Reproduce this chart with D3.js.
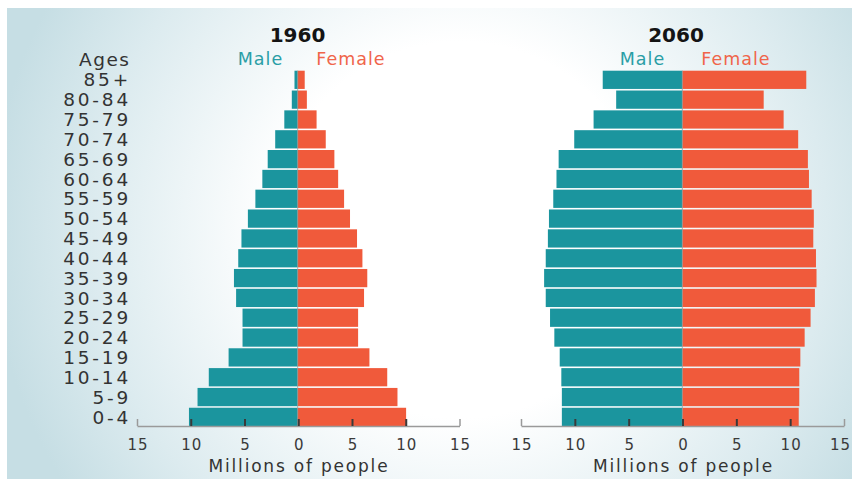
<!DOCTYPE html>
<html>
<head>
<meta charset="utf-8">
<script src="https://cdn.jsdelivr.net/npm/d3@7"></script>
<style>
  html, body { margin: 0; padding: 0; background: #fff; }
  svg { display: block; }
  text { font-family: "DejaVu Sans", sans-serif; }
</style>
</head>
<body>
<svg id="chart" width="852" height="482"></svg>
<script>
// Age groups, oldest at the top
const ages = ["85+","80-84","75-79","70-74","65-69","60-64","55-59","50-54","45-49",
              "40-44","35-39","30-34","25-29","20-24","15-19","10-14","5-9","0-4"];

// Population in millions
const male1960   = [0.3, 0.55, 1.25, 2.1, 2.8, 3.3, 3.95, 4.65, 5.25, 5.55, 5.95, 5.75, 5.15, 5.15, 6.45, 8.3, 9.35, 10.15];
const female1960 = [0.65, 0.85, 1.75, 2.6, 3.4, 3.75, 4.3, 4.85, 5.5, 6.0, 6.45, 6.15, 5.6, 5.6, 6.65, 8.3, 9.25, 10.05];
const male2060   = [7.4, 6.15, 8.25, 10.05, 11.5, 11.7, 12.0, 12.4, 12.5, 12.7, 12.85, 12.7, 12.3, 11.9, 11.4, 11.25, 11.2, 11.2];
const female2060 = [11.5, 7.55, 9.4, 10.75, 11.65, 11.75, 12.0, 12.2, 12.15, 12.4, 12.45, 12.3, 11.9, 11.35, 10.95, 10.85, 10.85, 10.8];

const years = ["1960", "2060"];
const tickValues = [-15, -10, -5, 0, 5, 10, 15];
const axisTitle = "Millions of people";
const sexLabels = ["Male", "Female"];

const MALE = "#1b959e", FEMALE = "#f05a3b";

const svg = d3.select("#chart");

// Backdrop with a soft pale-blue vignette
const defs = svg.append("defs");
const grad = defs.append("radialGradient").attr("id", "bg")
  .attr("gradientUnits", "userSpaceOnUse")
  .attr("cx", 460).attr("cy", 230).attr("r", 470);
grad.append("stop").attr("offset", 0).attr("stop-color", "#ffffff");
grad.append("stop").attr("offset", 0.4).attr("stop-color", "#ffffff");
grad.append("stop").attr("offset", 0.78).attr("stop-color", "#dcebef");
grad.append("stop").attr("offset", 1).attr("stop-color", "#c6dee4");
svg.append("rect").attr("x", 7).attr("y", 8).attr("width", 845).attr("height", 471)
  .attr("fill", "url(#bg)");

const y = d3.scaleBand().domain(ages).range([70.7, 426]).paddingInner(0.08).paddingOuter(0);

const panels = [
  { year: years[0], male: male1960, female: female1960, x0: 297.7, left: 137, right: 459.5, titleX: 297.5, maleX: 260, femaleX: 350.5, axisX: 298 },
  { year: years[1], male: male2060, female: female2060, x0: 682.3, left: 521, right: 844, titleX: 676, maleX: 642, femaleX: 735.5, axisX: 682.5 }
];

panels.forEach((p, pi) => {
  const x = d3.scaleLinear().domain([-15, 15]).range([p.left, p.right]);
  // one-sided scales so zero lands on the panel centre line
  const xm = d3.scaleLinear().domain([0, 15]).range([p.x0, p.left]);
  const xf = d3.scaleLinear().domain([0, 15]).range([p.x0, p.right]);
  const g = svg.append("g");

  g.selectAll("rect.m").data(p.male).join("rect").attr("class", "m")
    .attr("x", d => xm(d)).attr("width", d => xm(0) - xm(d))
    .attr("y", (d, i) => y(ages[i])).attr("height", y.bandwidth())
    .attr("fill", MALE);
  g.selectAll("rect.f").data(p.female).join("rect").attr("class", "f")
    .attr("x", xf(0)).attr("width", d => xf(d) - xf(0))
    .attr("y", (d, i) => y(ages[i])).attr("height", y.bandwidth())
    .attr("fill", FEMALE);

  // thin divider at zero
  g.append("line").attr("x1", xf(0)).attr("x2", xf(0))
    .attr("y1", y.range()[0]).attr("y2", y.range()[1])
    .attr("stroke", "#7f9a9b").attr("stroke-width", 1).attr("opacity", 0.7);

  // axis: ticks point up, labels read absolute values
  const axis = d3.axisBottom(x).tickValues(tickValues)
    .tickFormat(d => Math.abs(d)).tickSizeInner(-7).tickSizeOuter(0).tickPadding(13);
  const ag = g.append("g").attr("transform", "translate(0,426)").call(axis);
  ag.select(".domain").attr("stroke", "#9a9a9a").attr("stroke-width", 1.5);
  ag.selectAll(".tick line")
    .attr("stroke", d => Math.abs(d) === 15 ? "#9a9a9a" : "#3a3a3a")
    .attr("stroke-width", d => Math.abs(d) === 15 ? 1.5 : 2);
  ag.selectAll(".tick text")
    .attr("fill", "#3a3a3a").attr("font-size", 15).attr("letter-spacing", 1)
    .attr("dx", d => (pi === 1 && d === 15) ? -4 : 0.5)
    .style("font-family", "DejaVu Sans, sans-serif");

  g.append("text").attr("x", p.axisX + 1).attr("y", 471.5).attr("text-anchor", "middle")
    .attr("font-size", 17).attr("letter-spacing", 1.8).attr("fill", "#333")
    .text(axisTitle);

  g.append("text").attr("x", p.titleX).attr("y", 41.5).attr("text-anchor", "middle")
    .attr("font-size", 20).attr("font-weight", "bold")
    .attr("fill", "#141414").text(p.year);

  g.append("text").attr("x", p.maleX + 0.5).attr("y", 65).attr("text-anchor", "middle")
    .attr("font-size", 17.5).attr("letter-spacing", 1).attr("fill", "#2a9ea6").text(sexLabels[0]);
  g.append("text").attr("x", p.femaleX + 0.5).attr("y", 65).attr("text-anchor", "middle")
    .attr("font-size", 17.5).attr("letter-spacing", 1).attr("fill", "#f0654a").text(sexLabels[1]);
});

// Age labels
svg.append("text").attr("x", 130.5).attr("y", 65.5).attr("text-anchor", "end")
  .attr("font-size", 18.5).attr("letter-spacing", 1.5).attr("fill", "#333").text("Ages");
svg.append("g").selectAll("text").data(ages).join("text")
  .attr("x", 131).attr("y", d => y(d) + y.bandwidth() / 2).attr("dy", "0.36em")
  .attr("text-anchor", "end").attr("font-size", 18.5).attr("letter-spacing", 2.8)
  .attr("fill", "#333").text(d => d);
</script>
</body>
</html>
